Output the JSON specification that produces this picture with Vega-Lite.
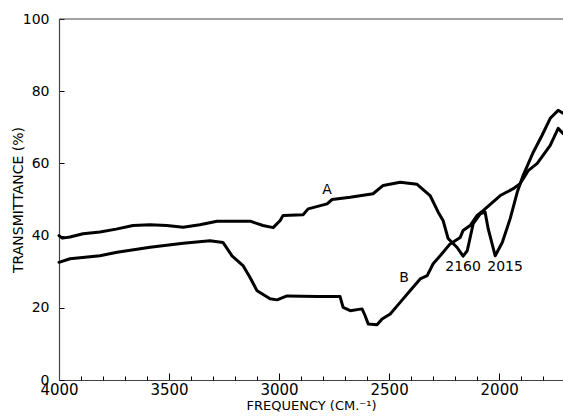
{
  "$schema": "https://vega.github.io/schema/vega-lite/v6.json",
  "width": 504,
  "height": 361,
  "autosize": "none",
  "padding": {"left": 59, "top": 19, "right": 0, "bottom": 38},
  "background": "white",
  "config": {"view": {"stroke": null}, "font": "DejaVu Sans", "axis": {"labelOverlap": false}},
  "resolve": {"axis": {"x": "independent", "y": "independent"}},
  "datasets": {
    "spectra": [
      {"curve": "A", "freq": 4000, "t": 40.0},
      {"curve": "A", "freq": 3985, "t": 39.3},
      {"curve": "A", "freq": 3950, "t": 39.6},
      {"curve": "A", "freq": 3891, "t": 40.5},
      {"curve": "A", "freq": 3814, "t": 41.0},
      {"curve": "A", "freq": 3740, "t": 41.8},
      {"curve": "A", "freq": 3664, "t": 42.8},
      {"curve": "A", "freq": 3586, "t": 43.0},
      {"curve": "A", "freq": 3510, "t": 42.8},
      {"curve": "A", "freq": 3436, "t": 42.3},
      {"curve": "A", "freq": 3360, "t": 43.0},
      {"curve": "A", "freq": 3282, "t": 44.0},
      {"curve": "A", "freq": 3132, "t": 44.0},
      {"curve": "A", "freq": 3073, "t": 42.8},
      {"curve": "A", "freq": 3027, "t": 42.2},
      {"curve": "A", "freq": 2995, "t": 44.2},
      {"curve": "A", "freq": 2982, "t": 45.6},
      {"curve": "A", "freq": 2891, "t": 45.8},
      {"curve": "A", "freq": 2868, "t": 47.4},
      {"curve": "A", "freq": 2782, "t": 48.8},
      {"curve": "A", "freq": 2759, "t": 50.0},
      {"curve": "A", "freq": 2677, "t": 50.6},
      {"curve": "A", "freq": 2573, "t": 51.6},
      {"curve": "A", "freq": 2527, "t": 53.9},
      {"curve": "A", "freq": 2450, "t": 54.8},
      {"curve": "A", "freq": 2373, "t": 54.2},
      {"curve": "A", "freq": 2314, "t": 51.1},
      {"curve": "A", "freq": 2277, "t": 46.5},
      {"curve": "A", "freq": 2255, "t": 44.2},
      {"curve": "A", "freq": 2232, "t": 39.2},
      {"curve": "A", "freq": 2191, "t": 36.7},
      {"curve": "A", "freq": 2164, "t": 34.3},
      {"curve": "A", "freq": 2145, "t": 35.8},
      {"curve": "A", "freq": 2118, "t": 43.3},
      {"curve": "A", "freq": 2086, "t": 46.0},
      {"curve": "A", "freq": 2064, "t": 46.5},
      {"curve": "A", "freq": 2050, "t": 41.9},
      {"curve": "A", "freq": 2018, "t": 34.4},
      {"curve": "A", "freq": 1986, "t": 38.1},
      {"curve": "A", "freq": 1950, "t": 44.7},
      {"curve": "A", "freq": 1918, "t": 52.0},
      {"curve": "A", "freq": 1891, "t": 56.7},
      {"curve": "A", "freq": 1845, "t": 63.1},
      {"curve": "A", "freq": 1805, "t": 67.8},
      {"curve": "A", "freq": 1768, "t": 72.5},
      {"curve": "A", "freq": 1732, "t": 74.7},
      {"curve": "A", "freq": 1710, "t": 73.9},
      {"curve": "B", "freq": 4000, "t": 32.6},
      {"curve": "B", "freq": 3950, "t": 33.6},
      {"curve": "B", "freq": 3814, "t": 34.4},
      {"curve": "B", "freq": 3736, "t": 35.4},
      {"curve": "B", "freq": 3586, "t": 36.8},
      {"curve": "B", "freq": 3436, "t": 37.9},
      {"curve": "B", "freq": 3314, "t": 38.6},
      {"curve": "B", "freq": 3255, "t": 38.1},
      {"curve": "B", "freq": 3214, "t": 34.4},
      {"curve": "B", "freq": 3164, "t": 31.7},
      {"curve": "B", "freq": 3132, "t": 28.4},
      {"curve": "B", "freq": 3100, "t": 24.7},
      {"curve": "B", "freq": 3041, "t": 22.5},
      {"curve": "B", "freq": 3009, "t": 22.2},
      {"curve": "B", "freq": 2964, "t": 23.3},
      {"curve": "B", "freq": 2827, "t": 23.1},
      {"curve": "B", "freq": 2723, "t": 23.1},
      {"curve": "B", "freq": 2709, "t": 20.1},
      {"curve": "B", "freq": 2677, "t": 19.2},
      {"curve": "B", "freq": 2623, "t": 19.7},
      {"curve": "B", "freq": 2609, "t": 17.8},
      {"curve": "B", "freq": 2595, "t": 15.5},
      {"curve": "B", "freq": 2555, "t": 15.3},
      {"curve": "B", "freq": 2532, "t": 16.9},
      {"curve": "B", "freq": 2495, "t": 18.3},
      {"curve": "B", "freq": 2450, "t": 21.5},
      {"curve": "B", "freq": 2405, "t": 24.7},
      {"curve": "B", "freq": 2359, "t": 28.0},
      {"curve": "B", "freq": 2327, "t": 28.9},
      {"curve": "B", "freq": 2300, "t": 32.2},
      {"curve": "B", "freq": 2268, "t": 34.4},
      {"curve": "B", "freq": 2223, "t": 37.7},
      {"curve": "B", "freq": 2177, "t": 39.5},
      {"curve": "B", "freq": 2164, "t": 41.4},
      {"curve": "B", "freq": 2132, "t": 42.8},
      {"curve": "B", "freq": 2100, "t": 45.6},
      {"curve": "B", "freq": 2073, "t": 46.9},
      {"curve": "B", "freq": 1995, "t": 51.1},
      {"curve": "B", "freq": 1936, "t": 53.0},
      {"curve": "B", "freq": 1905, "t": 54.4},
      {"curve": "B", "freq": 1868, "t": 58.0},
      {"curve": "B", "freq": 1827, "t": 60.0},
      {"curve": "B", "freq": 1768, "t": 65.0},
      {"curve": "B", "freq": 1732, "t": 69.7},
      {"curve": "B", "freq": 1710, "t": 68.3}
    ],
    "labels": [
      {"text": "A", "freq": 2782, "t": 52.6},
      {"text": "B", "freq": 2432, "t": 28.2},
      {"text": "2160", "freq": 2164, "t": 31.3},
      {"text": "2015", "freq": 1973, "t": 31.3}
    ],
    "frame": [{"t": 100}]
  },
  "layer": [
    {
      "data": {"name": "spectra"},
      "mark": {"type": "line", "color": "black", "strokeWidth": 3, "strokeJoin": "round", "strokeCap": "round"},
      "encoding": {
        "x": {
          "field": "freq", "type": "quantitative",
          "scale": {"domain": [4000, 1710], "nice": false, "zero": false},
          "axis": {
            "title": "FREQUENCY (CM.⁻¹)",
            "titleFont": "DejaVu Sans", "titleFontSize": 13, "titleFontWeight": "normal", "titleColor": "black",
            "titlePadding": 2,
            "values": [4000, 3500, 3000, 2500, 2000],
            "format": "d",
            "labelFont": "DejaVu Sans", "labelFontSize": 15, "labelColor": "black",
            "labelPadding": 9,
            "labelOverlap": false,
            "labelFlush": false,
            "tickSize": -7,
            "tickColor": "black", "tickWidth": 1,
            "domainColor": "#444", "domainWidth": 1.2,
            "grid": false
          }
        },
        "y": {
          "field": "t", "type": "quantitative",
          "scale": {"domain": [0, 100], "nice": false},
          "axis": {
            "title": "TRANSMITTANCE (%)",
            "titleFont": "DejaVu Sans", "titleFontSize": 14, "titleFontWeight": "normal", "titleColor": "black",
            "titlePadding": -3,
            "values": [0, 20, 40, 60, 80, 100],
            "labelFont": "DejaVu Sans", "labelFontSize": 14, "labelColor": "black",
            "labelPadding": 15,
            "tickSize": -5,
            "tickColor": "black", "tickWidth": 1,
            "domainColor": "#444", "domainWidth": 1.2,
            "grid": false
          }
        },
        "detail": {"field": "curve", "type": "nominal"}
      }
    },
    {
      "data": {"name": "frame"},
      "mark": {"type": "rule", "color": "#444", "strokeWidth": 1},
      "encoding": {"y": {"field": "t", "type": "quantitative", "axis": null}}
    },
    {
      "data": {"name": "labels"},
      "mark": {"type": "text", "font": "DejaVu Sans", "fontSize": 14, "color": "black", "align": "center", "baseline": "middle"},
      "encoding": {
        "x": {
          "field": "freq", "type": "quantitative",
          "axis": {
            "orient": "bottom", "title": null, "labels": false, "domain": false, "grid": false,
            "values": [3900, 3800, 3700, 3600, 3400, 3300, 3200, 3100, 2900, 2800, 2700, 2600, 2400, 2300, 2200, 2100, 1900, 1800],
            "tickSize": -4, "tickColor": "black", "tickWidth": 1
          }
        },
        "y": {"field": "t", "type": "quantitative", "axis": null},
        "text": {"field": "text", "type": "nominal"}
      }
    }
  ]
}
